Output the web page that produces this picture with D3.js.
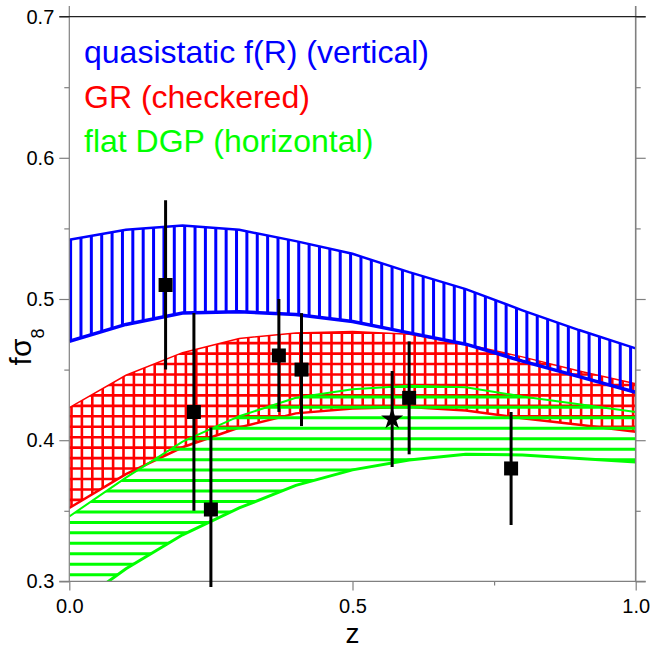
<!DOCTYPE html>
<html>
<head>
<meta charset="utf-8">
<script src="https://cdn.jsdelivr.net/npm/d3@7"></script>
<style>
  body { margin: 0; background: #fff; }
  svg { display: block; }
  text { font-family: "Liberation Sans", Arial, sans-serif; }
</style>
</head>
<body>
<svg id="chart" width="652" height="654"></svg>
<script>
// Redshift grid on which the model bands are tabulated
const zGrid = [0.0, 0.1, 0.2, 0.3, 0.4, 0.5, 0.6, 0.7, 0.8, 0.9, 1.0];

// quasistatic f(R) band
const fRUpper = [0.542, 0.549, 0.552, 0.549, 0.541, 0.532, 0.519, 0.507, 0.492, 0.478, 0.465];
const fRLower = [0.470, 0.482, 0.490, 0.491, 0.489, 0.484, 0.476, 0.468, 0.456, 0.445, 0.434];

// GR band
const grUpper = [0.423, 0.446, 0.462, 0.472, 0.476, 0.477, 0.475, 0.468, 0.459, 0.449, 0.440];
const grLower = [0.352, 0.376, 0.395, 0.409, 0.419, 0.4225, 0.4235, 0.421, 0.4155, 0.411, 0.406];

// flat DGP band
const dgpUpper = [0.346, 0.3735, 0.399, 0.417, 0.430, 0.436, 0.4385, 0.4375, 0.431, 0.4255, 0.420];
const dgpLower = [0.280, 0.309, 0.333, 0.352, 0.368, 0.379, 0.386, 0.390, 0.3895, 0.387, 0.3845];

// Measurements of f*sigma8
const obsZ      = [0.17, 0.22, 0.25, 0.37, 0.41, 0.57, 0.60, 0.78];
const obsF      = [0.51, 0.42, 0.351, 0.46, 0.45, 0.415, 0.43, 0.38];
const obsErr    = [0.06, 0.07, 0.058, 0.04, 0.04, 0.034, 0.04, 0.04];
const obsMarker = ["square", "square", "square", "square", "square", "star", "square", "square"];

// Axis ticks
const xMajor = [0.0, 0.5, 1.0];
const xMinor = [0.25, 0.75];
const yMajor = [0.3, 0.4, 0.5, 0.6, 0.7];
const yMinor = [0.35, 0.45, 0.55, 0.65];

// Legend entries
const legendLabels = ["quasistatic f(R) (vertical)", "GR (checkered)", "flat DGP (horizontal)"];
const legendColors = ["#0000ff", "#ff0000", "#00ff00"];

const svg = d3.select("#chart");
const x = d3.scaleLinear().domain([0, 1]).range([69.3, 635.7]);
const y = d3.scaleLinear().domain([0.3, 0.7]).range([581.4, 16.6]);
const [xL, xR] = x.range();
const [yB, yT] = y.range();

const defs = svg.append("defs");
defs.append("clipPath").attr("id", "plot-clip")
  .append("rect").attr("x", xL).attr("y", yT).attr("width", xR - xL).attr("height", yB - yT);
defs.append("clipPath").attr("id", "bar-clip")
  .append("rect").attr("x", xL - 5).attr("y", yT).attr("width", xR - xL + 10).attr("height", yB - yT + 5.5);

function bandRows(lo, hi) {
  return zGrid.map((z, i) => ({ z, lo: lo[i], hi: hi[i] }));
}
const area = d3.area().x(d => x(d.z)).y0(d => y(d.lo)).y1(d => y(d.hi));
const lineLo = d3.line().x(d => x(d.z)).y(d => y(d.lo));
const lineHi = d3.line().x(d => x(d.z)).y(d => y(d.hi));

const plot = svg.append("g").attr("clip-path", "url(#plot-clip)");

// Hatched band: lines clipped to the band outline, then the outline edges
function drawBand(id, rows, color, hatch, lw, upperW, lowerW) {
  defs.append("clipPath").attr("id", id).append("path").attr("d", area(rows));
  const g = plot.append("g");
  const h = g.append("g").attr("clip-path", `url(#${id})`);
  if (hatch.vertical) {
    d3.range(hatch.vertical.start, xR + 2, hatch.vertical.step).forEach(px => {
      h.append("line").attr("x1", px).attr("x2", px).attr("y1", yT).attr("y2", yB)
        .attr("stroke", color).attr("stroke-width", lw);
    });
  }
  if (hatch.horizontal) {
    d3.range(hatch.horizontal.start, yT - 2, -hatch.horizontal.step).forEach(py => {
      h.append("line").attr("x1", xL).attr("x2", xR).attr("y1", py).attr("y2", py)
        .attr("stroke", color).attr("stroke-width", lw);
    });
  }
  g.append("path").attr("d", lineHi(rows)).attr("fill", "none")
    .attr("stroke", color).attr("stroke-width", upperW);
  g.append("path").attr("d", lineLo(rows)).attr("fill", "none")
    .attr("stroke", color).attr("stroke-width", lowerW);
}

drawBand("gr-band", bandRows(grLower, grUpper), "#ff0000",
  { vertical: { start: 71.5, step: 10.4 }, horizontal: { start: 583.5, step: 10.45 } }, 2.6, 1.5, 2.5);
drawBand("dgp-band", bandRows(dgpLower, dgpUpper), "#00ff00",
  { horizontal: { start: 574.7, step: 10.46 } }, 3, 2, 3);
drawBand("fr-band", bandRows(fRLower, fRUpper), "#0000ff",
  { vertical: { start: 70.6, step: 10.37 } }, 3, 2.5, 3.5);

// Axes
const axisColor = "#808080";
function styleAxis(g) {
  g.select(".domain").remove();
  g.selectAll(".tick line").attr("stroke", axisColor).attr("stroke-width", 1.2);
  g.selectAll(".tick text").attr("fill", "#000").attr("font-size", 20)
    .attr("font-family", '"Liberation Sans", Arial, sans-serif');
}
svg.append("g").attr("transform", `translate(${xL},0)`)
  .call(d3.axisLeft(y).tickValues(yMajor).tickSize(10).tickPadding(5).tickFormat(d3.format(".1f")))
  .call(styleAxis);
svg.append("g").attr("transform", `translate(${xL},0)`)
  .call(d3.axisLeft(y).tickValues(yMinor).tickSize(5).tickFormat(""))
  .call(styleAxis);
svg.append("g").attr("transform", `translate(${xR},0)`)
  .call(d3.axisRight(y).tickValues(yMajor).tickSize(10).tickFormat(""))
  .call(styleAxis);
svg.append("g").attr("transform", `translate(${xR},0)`)
  .call(d3.axisRight(y).tickValues(yMinor).tickSize(5).tickFormat(""))
  .call(styleAxis);
svg.append("g").attr("transform", `translate(0,${yB})`)
  .call(d3.axisBottom(x).tickValues(xMajor).tickSize(9).tickPadding(8).tickFormat(d3.format(".1f")))
  .call(styleAxis);
svg.append("g").attr("transform", `translate(0,${yB})`)
  .call(d3.axisBottom(x).tickValues(xMinor).tickSize(4).tickFormat(""))
  .call(styleAxis);

// Frame lines
svg.append("line").attr("x1", xL).attr("x2", xL).attr("y1", 6).attr("y2", yB + 0.5)
  .attr("stroke", axisColor).attr("stroke-width", 1.2);
svg.append("line").attr("x1", xR).attr("x2", xR).attr("y1", 6).attr("y2", yB + 0.5)
  .attr("stroke", axisColor).attr("stroke-width", 1.6);
svg.append("line").attr("x1", xL - 10).attr("x2", xR + 10).attr("y1", yB).attr("y2", yB)
  .attr("stroke", axisColor).attr("stroke-width", 1.2);
svg.append("line").attr("x1", xL - 10).attr("x2", xR + 10).attr("y1", yT).attr("y2", yT)
  .attr("stroke", "#222").attr("stroke-width", 1.2);

// Measurements with error bars
const obs = obsZ.map((z, i) => ({ z, f: obsF[i], e: obsErr[i], m: obsMarker[i] }));
const pts = svg.append("g").attr("clip-path", "url(#bar-clip)");
pts.selectAll("line.err").data(obs).join("line").attr("class", "err")
  .attr("x1", d => x(d.z)).attr("x2", d => x(d.z))
  .attr("y1", d => y(d.f - d.e)).attr("y2", d => y(d.f + d.e))
  .attr("stroke", "#000").attr("stroke-width", 3);
pts.selectAll("path.mark").data(obs).join("path").attr("class", "mark")
  .attr("transform", d => `translate(${x(d.z)},${y(d.f)})`)
  .attr("d", d => d.m === "star"
    ? d3.symbol(d3.symbolStar, 150)()
    : d3.symbol(d3.symbolSquare, 196)())
  .attr("fill", "#000");

// Legend
legendLabels.forEach((t, i) => {
  svg.append("text").attr("x", 84).attr("y", 63 + i * 44.5)
    .attr("font-size", 32).attr("fill", legendColors[i]).text(t);
});

// Axis titles
svg.append("text").attr("x", x(0.5)).attr("y", 643).attr("text-anchor", "middle")
  .attr("font-size", 28).attr("fill", "#000").text("z");
const yTitle = svg.append("text")
  .attr("transform", `translate(31,347) rotate(-90)`)
  .attr("text-anchor", "middle").attr("font-size", 30).attr("fill", "#000");
yTitle.append("tspan").text("fσ");
yTitle.append("tspan").attr("font-size", 18).attr("dy", 13).text("8");
</script>
</body>
</html>
